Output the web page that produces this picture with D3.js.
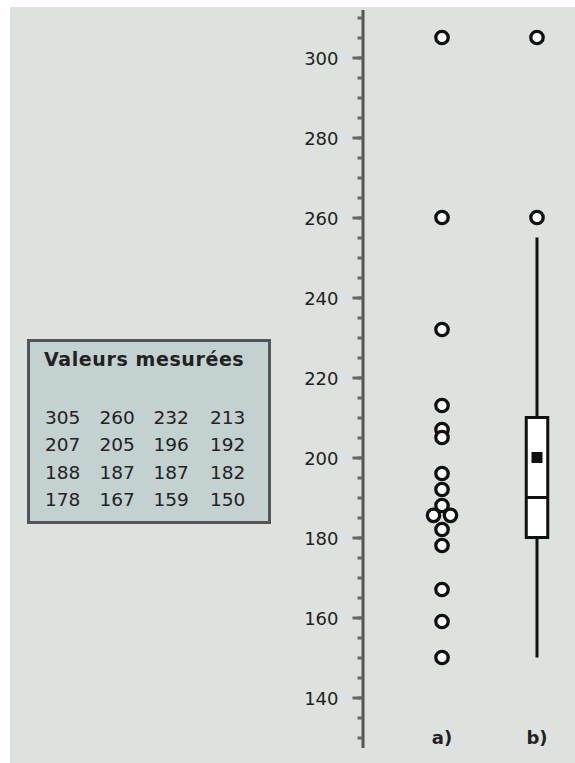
<meta charset="utf-8">
<head>
    <script src="https://cdn.jsdelivr.net/npm/d3@7/dist/d3.min.js"></script>
    <style>
        body { margin: 0; background: #ffffff; }
        text { font-family: "DejaVu Sans", Verdana, sans-serif; fill: #222; }
    </style>
</head>
<body>
    <svg width=575 height=763></svg>
</body>
<script>
    // measured values, as listed in the box
    let values = [305, 260, 232, 213, 207, 205, 196, 192, 188, 187, 187, 182, 178, 167, 159, 150];
    let groups = ["a)", "b)"];
    let majorTicks = [140, 160, 180, 200, 220, 240, 260, 280, 300];
    let minorTicks = d3.range(130, 311, 5);
    // box plot: lower whisker, Q1, median, Q3, upper whisker
    let boxStats = [150, 180, 190, 210, 255];
    let boxMean = [200];

    let svg = d3.select('svg');

    svg.append("rect")
        .attr("x", 10).attr("y", 7)
        .attr("width", 565).attr("height", 756)
        .attr("fill", "#dde2de");

    let y = d3.scaleLinear()
        .domain([127.5, 312])
        .range([747.5, 9.5]);

    let x = d3.scalePoint()
        .domain(groups)
        .range([442, 537]);

    let axisX = 362.5;

    // minor ticks + axis line
    svg.append("g")
        .attr("transform", `translate(${axisX}, 0)`)
        .call(d3.axisLeft(y).tickValues(minorTicks).tickSize(5).tickSizeOuter(0).tickFormat(""))
        .call(g => g.select(".domain").attr("stroke", "#555").attr("stroke-width", 3))
        .call(g => g.selectAll(".tick line").attr("stroke", "#666").attr("stroke-width", 3));

    // major ticks with labels
    svg.append("g")
        .attr("transform", `translate(${axisX}, 0)`)
        .call(d3.axisLeft(y).tickValues(majorTicks).tickSize(10).tickPadding(14).tickSizeOuter(0))
        .call(g => g.select(".domain").remove())
        .call(g => g.selectAll(".tick line").attr("stroke", "#666").attr("stroke-width", 3))
        .call(g => g.selectAll(".tick text")
            .attr("font-family", "DejaVu Sans, Verdana, sans-serif")
            .attr("font-size", 18)
            .attr("fill", "#333")
            .attr("dy", "0.38em"));

    // a) dot plot, duplicates placed side by side and pushed clear of neighbours
    let r = 6.2;
    let spread = 8.5;
    let minDist = 13;
    let counts = d3.rollup(values, v => v.length, d => d);
    let dots = [];
    d3.sort(values, (a, b) => b - a).forEach(function (v) {
        let n = counts.get(v);
        let k = dots.filter(d => d.value == v).length;
        let dx = n > 1 ? (k - (n - 1) / 2) * 2 * spread : 0;
        let cx = x("a)") + dx;
        let cy = y(v);
        if (n > 1) {
            dots.forEach(function (p) {
                if (p.value == v) return;
                let ddx = p.x - cx;
                if (Math.abs(ddx) < minDist) {
                    let need = p.y + Math.sqrt(minDist * minDist - ddx * ddx);
                    if (cy < need) cy = need;
                }
            });
        }
        dots.push({ value: v, x: cx, y: cy });
    });
    // dots of the same duplicate group share the lowest y found
    d3.group(dots, d => d.value).forEach(function (g) {
        let yy = d3.max(g, d => d.y);
        g.forEach(d => d.y = yy);
    });

    svg.append("g").selectAll("circle")
        .data(dots)
        .enter()
        .append("circle")
        .attr("cx", d => d.x)
        .attr("cy", d => d.y)
        .attr("r", r)
        .attr("fill", "#fff")
        .attr("stroke", "#111")
        .attr("stroke-width", 3.3);

    // b) box plot
    let bx = x("b)");
    let boxW = 21.5;
    let box = svg.append("g");

    box.append("line")
        .attr("x1", bx).attr("x2", bx)
        .attr("y1", y(boxStats[4])).attr("y2", y(boxStats[3]))
        .attr("stroke", "#111").attr("stroke-width", 3);

    box.append("line")
        .attr("x1", bx).attr("x2", bx)
        .attr("y1", y(boxStats[1])).attr("y2", y(boxStats[0]))
        .attr("stroke", "#111").attr("stroke-width", 3);

    box.append("rect")
        .attr("x", bx - boxW / 2)
        .attr("y", y(boxStats[3]))
        .attr("width", boxW)
        .attr("height", y(boxStats[1]) - y(boxStats[3]))
        .attr("fill", "#fff")
        .attr("stroke", "#111")
        .attr("stroke-width", 3);

    box.append("line")
        .attr("x1", bx - boxW / 2).attr("x2", bx + boxW / 2)
        .attr("y1", y(boxStats[2])).attr("y2", y(boxStats[2]))
        .attr("stroke", "#111").attr("stroke-width", 3);

    box.selectAll(".mean")
        .data(boxMean)
        .enter()
        .append("rect")
        .attr("x", bx - 5.5)
        .attr("y", d => y(d) - 5.5)
        .attr("width", 11)
        .attr("height", 11)
        .attr("fill", "#111");

    let outliers = values.filter(v => v > boxStats[4] || v < boxStats[0]);
    box.selectAll("circle")
        .data(outliers)
        .enter()
        .append("circle")
        .attr("cx", bx)
        .attr("cy", d => y(d))
        .attr("r", r)
        .attr("fill", "#fff")
        .attr("stroke", "#111")
        .attr("stroke-width", 3.3);

    // group labels
    svg.append("g").selectAll("text")
        .data(groups)
        .enter()
        .append("text")
        .attr("x", d => x(d))
        .attr("y", 744)
        .attr("text-anchor", "middle")
        .attr("font-size", 18)
        .attr("font-weight", "bold")
        .text(d => d);

    // box with the measured values
    let legend = svg.append("g").attr("transform", "translate(27, 339)");

    legend.append("rect")
        .attr("x", 1.5).attr("y", 1.5)
        .attr("width", 241).attr("height", 182)
        .attr("fill", "#c3d1d1")
        .attr("stroke", "#555")
        .attr("stroke-width", 3);

    legend.append("text")
        .attr("x", 17)
        .attr("y", 27)
        .attr("font-size", 19)
        .attr("font-weight", "bold")
        .attr("letter-spacing", 0.6)
        .text("Valeurs mesurées");

    let rowH = 27.5;
    let colW = [18, 72.5, 126.5, 183];
    legend.append("g").selectAll("text")
        .data(values)
        .enter()
        .append("text")
        .attr("x", (d, i) => colW[i % 4])
        .attr("y", (d, i) => 84.5 + Math.floor(i / 4) * rowH)
        .attr("font-size", 18.5)
        .text(d => d);
</script>
